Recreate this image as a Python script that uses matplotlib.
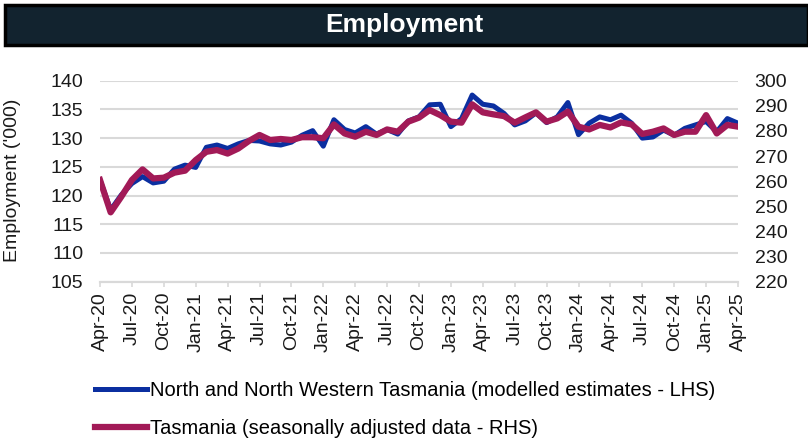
import matplotlib
matplotlib.use("Agg")
import matplotlib.pyplot as plt
from matplotlib.patches import Rectangle

plt.rcParams['font.family'] = ['Liberation Sans', 'DejaVu Sans']

tick_labels = ["Apr-20", "Jul-20", "Oct-20", "Jan-21", "Apr-21", "Jul-21", "Oct-21",
               "Jan-22", "Apr-22", "Jul-22", "Oct-22", "Jan-23", "Apr-23", "Jul-23",
               "Oct-23", "Jan-24", "Apr-24", "Jul-24", "Oct-24", "Jan-25", "Apr-25"]

# North and North Western Tasmania, modelled estimates ('000, LHS), monthly Apr-20 .. Apr-25
nnw_tas = [122.7, 117.5, 120.1, 122.1, 123.3, 122.2, 122.5, 124.6, 125.3, 124.9,
           128.4, 128.8, 128.2, 129.0, 129.6, 129.5, 129.0, 128.8, 129.3, 130.5,
           131.3, 128.6, 133.2, 131.5, 130.9, 132.0, 130.7, 131.5, 130.7, 133.0,
           133.7, 135.8, 135.9, 132.0, 133.4, 137.5, 135.9, 135.6, 134.3, 132.3,
           133.0, 134.4, 132.7, 133.7, 136.2, 130.6, 132.6, 133.7, 133.2, 134.0,
           132.6, 130.0, 130.2, 131.4, 130.5, 131.7, 132.3, 132.9, 131.1, 133.4,
           132.6]

# Tasmania, seasonally adjusted ('000, RHS)
tas_sa = [260.5, 247.6, 253.8, 260.5, 264.7, 261.1, 261.4, 263.4, 264.2, 268.4,
          271.7, 272.4, 271.0, 273.0, 276.0, 278.4, 276.4, 276.8, 276.4, 277.5,
          277.5, 277.1, 282.6, 279.0, 277.7, 279.7, 278.4, 280.6, 279.7, 283.7,
          285.3, 288.3, 286.3, 283.7, 283.3, 290.6, 287.4, 286.6, 285.9, 283.3,
          285.4, 287.4, 283.7, 285.0, 287.7, 281.7, 280.6, 282.4, 281.4, 283.4,
          282.6, 278.8, 279.7, 281.0, 278.4, 279.7, 279.7, 286.3, 279.0, 282.4,
          281.7]

lhs_ticks = [105, 110, 115, 120, 125, 130, 135, 140]
rhs_ticks = [220, 230, 240, 250, 260, 270, 280, 290, 300]

label_blue = "North and North Western Tasmania (modelled estimates - LHS)"
label_red = "Tasmania (seasonally adjusted data - RHS)"

months = list(range(len(nnw_tas)))

fig = plt.figure(figsize=(8.08, 4.41), dpi=100)
ax = fig.add_axes([100/808, 1-281.7/441, 638/808, 201/441])
ax2 = ax.twinx()

# banner title
fig.patches.append(Rectangle((5/808, 1-45/441), 803/808, 40/441, transform=fig.transFigure,
                             facecolor='#12232F', edgecolor='black', linewidth=2.5, zorder=0))
fig.text(0.5, 1-25/441, "Employment", color='white', fontsize=19, fontweight='bold',
         ha='center', va='center')

l1, = ax.plot(months, nnw_tas, color='#0B2FA0', linewidth=3.6, solid_joinstyle='round',
              label=label_blue)
l2, = ax2.plot(months, tas_sa, color='#A21A57', linewidth=4.5, solid_joinstyle='round',
               label=label_red)

ax.set_xlim(0, len(months) - 1)
ax.set_ylim(lhs_ticks[0], lhs_ticks[-1])
ax2.set_ylim(rhs_ticks[0], rhs_ticks[-1])
ax.set_yticks(lhs_ticks)
ax2.set_yticks(rhs_ticks)
ax.set_xticks(months[::3])
ax.set_xticklabels(tick_labels, rotation=90)

ax.grid(axis='y', color='#D9D9D9', linewidth=1.5)
ax.set_axisbelow(True)
for a in (ax, ax2):
    for s in ('top', 'left', 'right'):
        a.spines[s].set_visible(False)
    a.spines['bottom'].set_color('#D9D9D9')
    a.spines['bottom'].set_linewidth(1.5)

ax.tick_params(axis='y', length=0, pad=12, labelsize=14, labelcolor='#1a1a1a')
ax2.tick_params(axis='y', length=0, pad=12, labelsize=14, labelcolor='#1a1a1a')
ax.tick_params(axis='x', length=3.4, width=1.2, color='#D9D9D9', pad=4, labelsize=14,
               labelcolor='#1a1a1a')

fig.text(13/808, 1-180/441, "Employment ('000)", rotation=90, fontsize=14,
         ha='center', va='center', color='#1a1a1a')

fig.legend([l1, l2], [label_blue, label_red], loc='upper left',
           bbox_to_anchor=(95/808, 1-381/441), frameon=False, fontsize=14.5,
           handlelength=2.6, handletextpad=0.15, labelspacing=0.95,
           borderpad=0, borderaxespad=0)

fig.savefig('out.png', dpi=100)
